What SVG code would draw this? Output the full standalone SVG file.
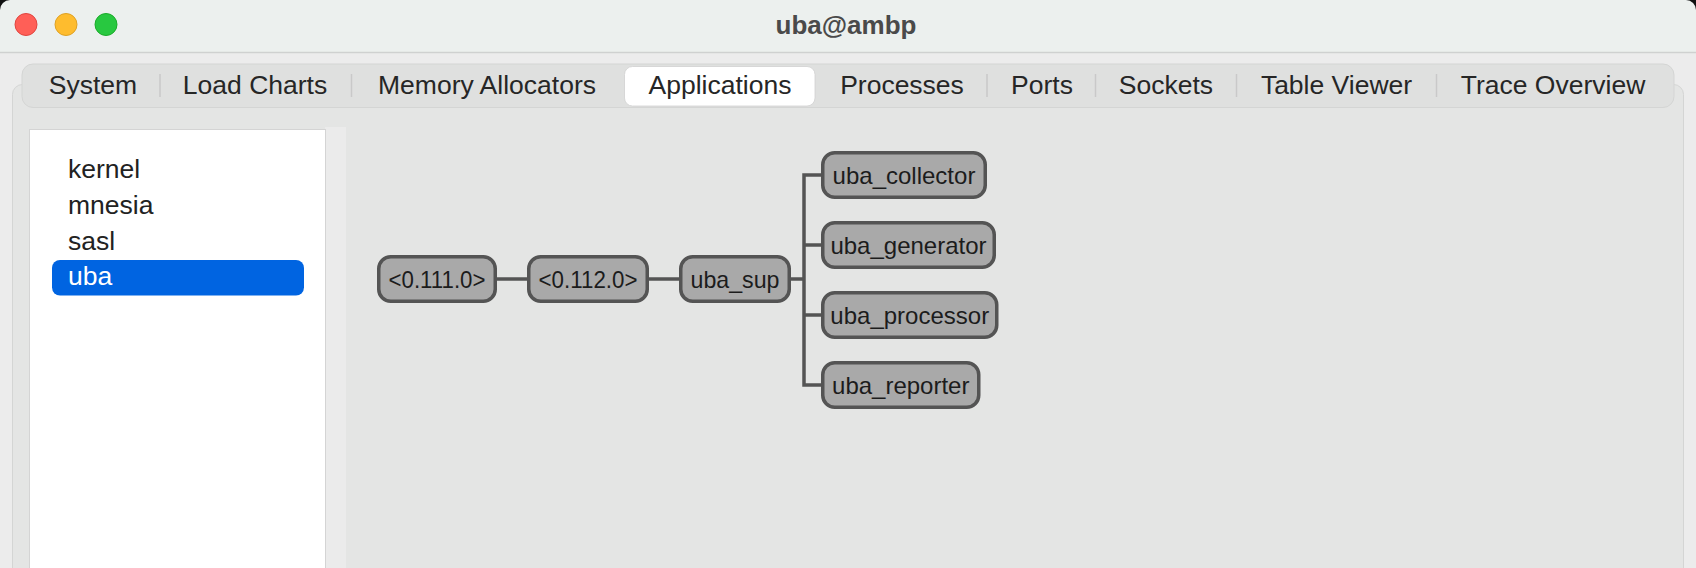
<svg xmlns="http://www.w3.org/2000/svg" width="1696" height="568" viewBox="0 0 1696 568">
  <style>
    .tab { font-family: "Liberation Sans", Arial, sans-serif; font-size: 26.5px; fill: #262626; text-anchor: middle; }
    .sep { stroke: #c9c9c9; stroke-width: 1.5; }
    .item { font-family: "Liberation Sans", Arial, sans-serif; font-size: 26.5px; fill: #222222; }
    .node rect { fill: #a9a9a9; stroke: #545454; stroke-width: 3.5; }
    .node text { font-family: "Liberation Sans", Arial, sans-serif; font-size: 24px; fill: #1c1c1c; text-anchor: middle; }
    .conn { fill: none; stroke: #545454; stroke-width: 3.5; }
  </style>
  <!-- window background -->
  <rect x="0" y="0" width="1696" height="568" fill="#ececec"/>
  <!-- title bar -->
  <rect x="0" y="0" width="1696" height="52" fill="#ecf0ee"/>
  <path d="M0 0 H10 A10 10 0 0 0 0 10 Z" fill="#111111"/>
  <path d="M1696 0 H1686 A10 10 0 0 1 1696 10 Z" fill="#111111"/>
  <line x1="0" y1="52.5" x2="1696" y2="52.5" stroke="#cfd1d0" stroke-width="1.5"/>
  <g id="traffic-lights">
    <circle cx="26" cy="24.5" r="11" fill="#ff5f57" stroke="#e0443e" stroke-width="1"/>
    <circle cx="66" cy="24.5" r="11" fill="#febc2e" stroke="#dea123" stroke-width="1"/>
    <circle cx="106" cy="24.5" r="11" fill="#28c840" stroke="#1aab29" stroke-width="1"/>
  </g>
  <text x="846" y="34" font-family="Liberation Sans, Arial, sans-serif" font-size="26px" font-weight="bold" fill="#4a4a4a" text-anchor="middle">uba@ambp</text>

  <!-- main panel -->
  <rect x="12.5" y="84.5" width="1671" height="520" rx="10" fill="#e4e5e4" stroke="#d4d5d4" stroke-width="1"/>

  <!-- tab bar -->
  <g id="tabbar">
    <rect x="22" y="64" width="1652" height="43.5" rx="11" fill="#dfe0df" stroke="#d4d5d4" stroke-width="1"/>
    <rect x="624.5" y="66.5" width="190.5" height="39.5" rx="8" fill="#ffffff" stroke="#d0d0d0" stroke-width="0.8"/>
    <line class="sep" x1="160" y1="74" x2="160" y2="97"/>
    <line class="sep" x1="351.5" y1="74" x2="351.5" y2="97"/>
    <line class="sep" x1="987" y1="74" x2="987" y2="97"/>
    <line class="sep" x1="1095.5" y1="74" x2="1095.5" y2="97"/>
    <line class="sep" x1="1236.5" y1="74" x2="1236.5" y2="97"/>
    <line class="sep" x1="1436.5" y1="74" x2="1436.5" y2="97"/>
    <text class="tab" x="93" y="94">System</text>
    <text class="tab" x="255" y="94">Load Charts</text>
    <text class="tab" x="487" y="94">Memory Allocators</text>
    <text class="tab" x="720" y="94">Applications</text>
    <text class="tab" x="902" y="94">Processes</text>
    <text class="tab" x="1042" y="94">Ports</text>
    <text class="tab" x="1166" y="94">Sockets</text>
    <text class="tab" x="1336.5" y="94">Table Viewer</text>
    <text class="tab" x="1553" y="94">Trace Overview</text>
  </g>

  <!-- sidebar list -->
  <g id="app-list">
    <rect x="325" y="127" width="21" height="441" fill="#ebebeb"/>
    <rect x="29.5" y="129.5" width="296" height="450" fill="#ffffff" stroke="#d4d4d4" stroke-width="1"/>
    <rect x="52" y="260" width="252" height="35.5" rx="8" fill="#0064e1"/>
    <text class="item" x="68" y="178">kernel</text>
    <text class="item" x="68" y="214">mnesia</text>
    <text class="item" x="68" y="249.5">sasl</text>
    <text class="item" x="68" y="285" style="fill:#ffffff">uba</text>
  </g>

  <!-- connectors -->
  <g id="connectors">
    <line class="conn" x1="497" y1="279" x2="527" y2="279"/>
    <line class="conn" x1="649" y1="279" x2="679" y2="279"/>
    <line class="conn" x1="791" y1="279" x2="804" y2="279"/>
    <path class="conn" d="M821 175 H804 V385 H821"/>
    <line class="conn" x1="804" y1="245" x2="821" y2="245"/>
    <line class="conn" x1="804" y1="315" x2="821" y2="315"/>
  </g>

  <!-- nodes -->
  <g id="node-0111" class="node">
    <rect x="378.75" y="256.75" width="116.5" height="44.5" rx="12"/>
    <text x="437" y="287.5" textLength="97" lengthAdjust="spacingAndGlyphs">&lt;0.111.0&gt;</text>
  </g>
  <g id="node-0112" class="node">
    <rect x="528.75" y="256.75" width="118.5" height="44.5" rx="12"/>
    <text x="588" y="287.5" textLength="99" lengthAdjust="spacingAndGlyphs">&lt;0.112.0&gt;</text>
  </g>
  <g id="node-uba_sup" class="node">
    <rect x="680.75" y="256.75" width="108.5" height="44.5" rx="12"/>
    <text x="735" y="287.5" textLength="89" lengthAdjust="spacingAndGlyphs">uba_sup</text>
  </g>
  <g id="node-uba_collector" class="node">
    <rect x="822.75" y="152.75" width="162.5" height="44.5" rx="12"/>
    <text x="904" y="183.5">uba_collector</text>
  </g>
  <g id="node-uba_generator" class="node">
    <rect x="822.75" y="222.75" width="171.5" height="44.5" rx="12"/>
    <text x="908.5" y="253.5">uba_generator</text>
  </g>
  <g id="node-uba_processor" class="node">
    <rect x="822.75" y="292.75" width="174" height="44.5" rx="12"/>
    <text x="909.75" y="323.5">uba_processor</text>
  </g>
  <g id="node-uba_reporter" class="node">
    <rect x="822.75" y="362.75" width="156" height="44.5" rx="12"/>
    <text x="900.75" y="393.5">uba_reporter</text>
  </g>
</svg>
